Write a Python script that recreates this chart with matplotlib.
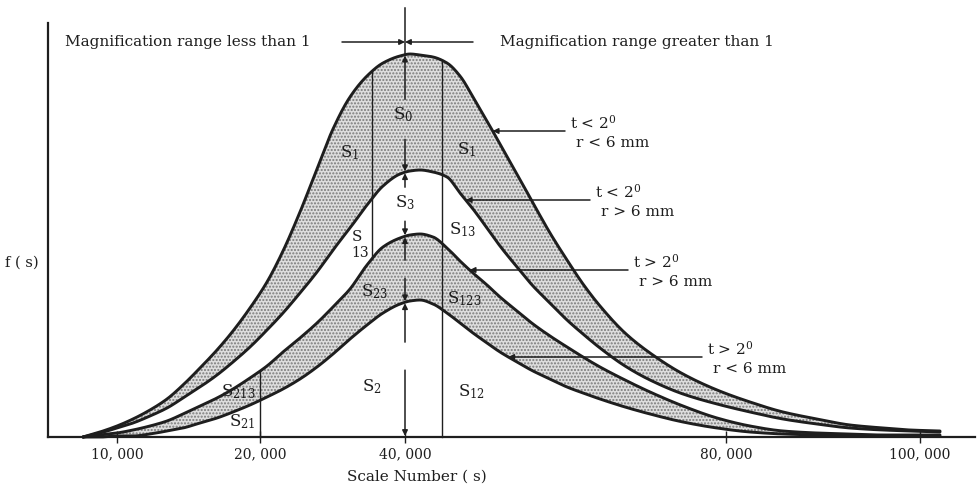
import numpy as np
import matplotlib
matplotlib.use("Agg")
import matplotlib.pyplot as plt

plt.rcParams['font.family'] = ['DejaVu Serif']
plt.rcParams['mathtext.fontset'] = 'dejavuserif'

# ---------------- data (axis units: position along scale axis, f(s) height) ----------
pos = [35, 52, 69, 85, 102, 119, 135, 152, 169, 185, 202, 219, 235, 252, 269, 285, 302,
       319, 335, 352, 362, 372, 385, 399, 412, 425, 439, 452, 469, 485, 502, 519, 535,
       552, 577, 602, 635, 669, 702, 735, 769, 802, 835, 862, 892]
# t<2deg r<6mm
f_a = [0, 5, 11, 18, 27, 38, 52, 69, 87, 106, 129, 155, 186, 225, 268, 308, 340, 361, 374,
       381, 383, 382, 380, 374, 361, 340, 316, 293, 263, 234, 204, 177, 153, 131, 104, 84,
       63, 47, 35, 25, 18, 12, 9, 7, 6]
# t<2deg r>6mm
f_b = [0, 4, 9, 14, 21, 29, 39, 50, 62, 75, 90, 107, 124, 144, 165, 187, 209, 232, 251,
       263, 266, 267, 265, 260, 244, 228, 209, 191, 170, 151, 134, 117, 103, 89, 71, 57,
       43, 33, 25, 18, 13, 9, 7, 6, 5]
# t>2deg r>6mm
f_c = [0, 2, 4, 7, 11, 16, 23, 31, 39, 48, 59, 71, 85, 99, 114, 130, 148, 172, 190, 199,
       202, 203, 200, 189, 176, 164, 152, 140, 126, 113, 101, 90, 80, 70, 57, 45, 31, 19,
       11, 6, 4, 3, 2, 2, 2]
# t>2deg r<6mm
f_d = [0, 0, 1, 1, 3, 6, 9, 14, 19, 25, 32, 40, 48, 58, 70, 83, 98, 112, 124, 133, 136,
       137, 133, 124, 114, 104, 94, 85, 75, 66, 58, 50, 44, 38, 30, 23, 15, 9, 5, 3, 2, 1,
       1, 1, 1]

tick_pos = [69, 212, 357, 678, 872]
tick_labels = ["10, 000", "20, 000", "40, 000", "80, 000", "100, 000"]

curve_labels = [("t < 2$^0$", "r < 6 mm"), ("t < 2$^0$", "r > 6 mm"),
                ("t > 2$^0$", "r > 6 mm"), ("t > 2$^0$", "r < 6 mm")]
arrow_heights = [306, 237, 167, 80]
label_x = [522, 547, 585, 659]

x_scale_left = 324     # vertical divider (S1 | S0)
x_scale_right = 394    # vertical divider (S0 | S1)
x_center = 357         # 40,000


def smooth(xk, yk, xq):
    """Monotone cubic (PCHIP) rendering of a curve through its points."""
    xk = np.asarray(xk, float); yk = np.asarray(yk, float)
    h = np.diff(xk); d = np.diff(yk) / h
    m = np.zeros_like(yk)
    m[0], m[-1] = d[0], d[-1]
    for k in range(1, len(xk) - 1):
        if d[k - 1] * d[k] > 0:
            w1 = 2 * h[k] + h[k - 1]
            w2 = h[k] + 2 * h[k - 1]
            m[k] = (w1 + w2) / (w1 / d[k - 1] + w2 / d[k])
    idx = np.clip(np.searchsorted(xk, xq) - 1, 0, len(xk) - 2)
    t = (xq - xk[idx]) / h[idx]
    h00 = 2 * t**3 - 3 * t**2 + 1
    h10 = t**3 - 2 * t**2 + t
    h01 = -2 * t**3 + 3 * t**2
    h11 = t**3 - t**2
    return (h00 * yk[idx] + h10 * h[idx] * m[idx] + h01 * yk[idx + 1]
            + h11 * h[idx] * m[idx + 1])


# ---------------- figure ----------------
fig = plt.figure(figsize=(9.8, 4.86), dpi=100)
ax = fig.add_axes([0, 0, 1, 1])
ax.set_xlim(-48, 932)
ax.set_ylim(-49, 437)

x = np.array(pos, float)
xs = np.linspace(x[0], x[-1], 1200)
A, B, C, D = (smooth(x, v, xs) for v in (f_a, f_b, f_c, f_d))
ink = '#1e1e1e'

ax.fill_between(xs, B, A, facecolor='#dedede', edgecolor='#7a7a7a', hatch='.....', linewidth=0)
ax.fill_between(xs, D, C, facecolor='#dedede', edgecolor='#7a7a7a', hatch='.....', linewidth=0)
for y in (A, B, C, D):
    ax.plot(xs, y, color=ink, lw=2.1, solid_joinstyle='round', solid_capstyle='round')

# spines as axes
for s in ('top', 'right'):
    ax.spines[s].set_visible(False)
ax.spines['left'].set_position(('data', 0))
ax.spines['bottom'].set_position(('data', 0))
ax.spines['left'].set_bounds(0, 414)
ax.spines['bottom'].set_bounds(0, 927)
for s in ('left', 'bottom'):
    ax.spines[s].set_linewidth(1.6)
    ax.spines[s].set_color(ink)
ax.set_yticks([])
ax.set_xticks(tick_pos, tick_labels)
ax.tick_params(axis='x', direction='inout', length=8, width=1.0, pad=3.5,
               labelsize=10, colors=ink)


def at(curve, xv):
    return float(np.interp(xv, xs, curve))


# vertical dividers
ax.plot([x_scale_left] * 2, [at(C, x_scale_left), at(A, x_scale_left)], color=ink, lw=1.0)
ax.plot([x_scale_right] * 2, [0, at(A, x_scale_right)], color=ink, lw=1.0)
ax.plot([tick_pos[1]] * 2, [0, at(C, tick_pos[1])], color=ink, lw=1.0)

# centre dimension arrows
aprops = dict(arrowstyle='-|>', color=ink, lw=1.1, mutation_scale=8,
              shrinkA=0, shrinkB=0)
levels = [at(A, x_center), at(B, x_center), at(C, x_center), at(D, x_center), 0.0]
fracs = [0.45, 0.5, 0.5, 0.6]
gaps = [20, 17, 9, 14]
for i in range(4):
    top, bot = levels[i], levels[i + 1]
    mid = bot + fracs[i] * (top - bot)
    ax.annotate('', xy=(x_center, top - 1), xytext=(x_center, mid + gaps[i]), arrowprops=aprops)
    ax.annotate('', xy=(x_center, bot + 1), xytext=(x_center, mid - gaps[i]), arrowprops=aprops)

# top divider line and magnification arrows
ax.plot([x_center, x_center], [levels[0], 429], color=ink, lw=1.1, clip_on=False)
ax.annotate('', xy=(x_center, 395), xytext=(294, 395), arrowprops=aprops)
ax.annotate('', xy=(x_center, 395), xytext=(425, 395), arrowprops=aprops)
ax.text(17, 395, "Magnification range less than 1", fontsize=11, va='center', ha='left', color=ink)
ax.text(452, 395, "Magnification range greater than 1", fontsize=11, va='center', ha='left', color=ink)

# curve annotations
curves = [A, B, C, D]
for curve, (l1, l2), h, lx in zip(curves, curve_labels, arrow_heights, label_x):
    k = int(np.argmax(curve))
    xr, yr = xs[k:], curve[k:]
    tip = float(np.interp(h, yr[::-1], xr[::-1]))
    ax.annotate('', xy=(tip, h), xytext=(lx - 5, h), arrowprops=aprops)
    ax.text(lx, h + 8, l1, fontsize=11, va='center', ha='left', color=ink)
    ax.text(lx + 6, h - 12, l2, fontsize=11, va='center', ha='left', color=ink)

# region labels
region = [("$\\mathrm{S}_0$", 355, 322), ("$\\mathrm{S}_1$", 302, 284),
          ("$\\mathrm{S}_1$", 419, 287), ("$\\mathrm{S}_3$", 357, 234),
          ("$\\mathrm{S}_{13}$", 415, 207), ("$\\mathrm{S}_{23}$", 327, 145),
          ("$\\mathrm{S}_{123}$", 416, 138), ("$\\mathrm{S}_2$", 324, 50),
          ("$\\mathrm{S}_{12}$", 424, 45), ("$\\mathrm{S}_{213}$", 190, 45),
          ("$\\mathrm{S}_{21}$", 194, 15)]
for t, xx, yy in region:
    ax.text(xx, yy, t, fontsize=12, ha='center', va='center', color=ink)
ax.text(309, 200, "S", fontsize=11, ha='center', va='center', color=ink)
ax.text(312, 184, "13", fontsize=10, ha='center', va='center', color=ink)

ax.text(-26, 174, "f ( s)", fontsize=10.5, ha='center', va='center', color=ink)
ax.text(369, -40, "Scale Number ( s)", fontsize=11, ha='center', va='center', color=ink)

fig.savefig("out.png", dpi=100, facecolor='white')
